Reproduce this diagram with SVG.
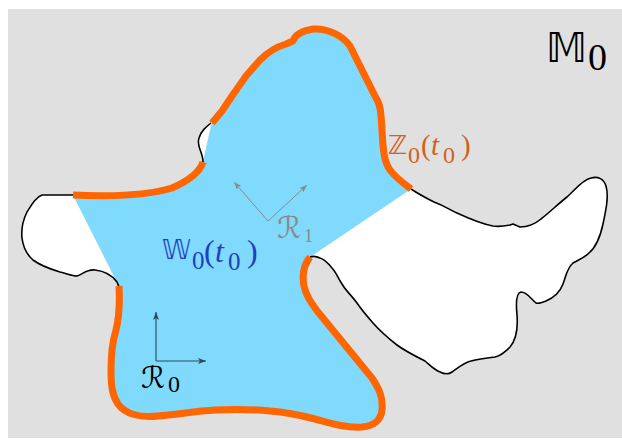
<svg xmlns="http://www.w3.org/2000/svg" width="622" height="440" viewBox="0 0 622 440">
<style>
.bg{fill:#e0e0e0}
.hole{fill:#ffffff;stroke:none}
.edge{fill:none;stroke:#000;stroke-width:1.6;stroke-linejoin:round}
.reg{fill:#80dafd;stroke:none}
.bnd{fill:none;stroke:#ff6600;stroke-width:7;stroke-linecap:butt;stroke-linejoin:round}
.t{font-family:"Liberation Serif","DejaVu Serif",serif}
.bb{font-family:"DejaVu Sans","DejaVu Serif","Noto Sans",sans-serif}
.it{font-style:italic}
</style>
<defs>
<marker id="ag" markerUnits="userSpaceOnUse" markerWidth="9" markerHeight="6" refX="8" refY="3" orient="auto">
<path d="M0,0 L8,3 L0,6 L2,3 Z" fill="#8a8a8a"/>
</marker>
<marker id="ad" markerUnits="userSpaceOnUse" markerWidth="9" markerHeight="6" refX="8" refY="3" orient="auto">
<path d="M0,0 L8,3 L0,6 L2,3 Z" fill="#2f4855"/>
</marker>
</defs>
<rect class="bg" x="8" y="9" width="614" height="429"/>
<g id="holes">
<path class="hole" d="M73,195 L42,195 C36,197 32,204 27,212 C23,220 21,228 22,238 C23,246 25,253 33,260 C41,266 50,269 60,272 C68,274 72,276 77,276 C83,274 87,269 95,270 C104,271 112,275 117,282 L119,287 Z"/>
<path class="hole" d="M203,162 C203,152 196,146 199,138 C201,131 206,127 211,123 Z"/>
<path class="hole" d="M411,189 C420,195 428,199 434,202 C445,206 450,210 457,213 C470,219 482,224 493,226 C500,227 505,226 510,225 L513,224 L520,227 C528,227 535,224 541,219 C550,212 558,204 567,197 C575,190 582,180 591,178 C598,176 604,179 606,186 C609,196 606,210 603,224 C600,238 595,248 589,253 C584,258 578,260 573,263 C567,268 566,276 563,284 C560,292 553,298 546,301 C541,303 538,304 536,303 C530,298 527,292 521,292 C516,293 516,305 517,315 C518,328 516,340 510,347 C505,352 500,356 495,357 C486,358 478,359 471,361 C463,363 458,368 452,372 C448,375 444,374 440,372 C433,369 430,365 425,361 C415,356 405,351 397,345 C388,338 380,331 373,323 C366,315 361,309 357,303 C352,296 346,291 342,284 C338,278 336,272 332,268 C328,263 324,259 320,258 C316,256 313,256 310,257 Z"/>
</g>
<g id="region-W0">
<path class="reg" d="M73,195 C110,197 150,195 172,188 C188,181 200,172 203,162 L212,123 L222,111 L232,96 L246,76 L260,60 C268,52 276,47 286,44 L293,41 C295,35 301,31 313,29 C328,28 343,36 350,46 L376,98 C381,105 381,115 382,130 C383,150 384,162 390,170 C396,178 403,183 411,189 L310,257 C303,266 302,276 304,286 C306,296 312,304 318,312 L372,378 C380,390 383,398 382,410 C381,420 374,426 362,427 C345,428 330,423 315,419 C300,415 285,412 270,411 C250,409 235,409 215,410 C195,411 175,415 158,416 C140,418 125,414 118,404 C112,395 111,385 111,370 C111,355 112,343 116,330 C119,318 120,305 119,286 Z"/>
</g>
<g id="connectors">
<path class="edge" d="M73,195 L42,195 C36,197 32,204 27,212 C23,220 21,228 22,238 C23,246 25,253 33,260 C41,266 50,269 60,272 C68,274 72,276 77,276 C83,274 87,269 95,270 C104,271 112,275 117,282 L119,287"/>
<path class="edge" d="M203,162 C203,152 196,146 199,138 C201,131 206,127 211,123"/>
<path class="edge" d="M411,189 C420,195 428,199 434,202 C445,206 450,210 457,213 C470,219 482,224 493,226 C500,227 505,226 510,225 L513,224 L520,227 C528,227 535,224 541,219 C550,212 558,204 567,197 C575,190 582,180 591,178 C598,176 604,179 606,186 C609,196 606,210 603,224 C600,238 595,248 589,253 C584,258 578,260 573,263 C567,268 566,276 563,284 C560,292 553,298 546,301 C541,303 538,304 536,303 C530,298 527,292 521,292 C516,293 516,305 517,315 C518,328 516,340 510,347 C505,352 500,356 495,357 C486,358 478,359 471,361 C463,363 458,368 452,372 C448,375 444,374 440,372 C433,369 430,365 425,361 C415,356 405,351 397,345 C388,338 380,331 373,323 C366,315 361,309 357,303 C352,296 346,291 342,284 C338,278 336,272 332,268 C328,263 324,259 320,258 C316,256 313,256 310,257"/>
<g id="boundary-Z0">
<path class="bnd" d="M73,195 C110,197 150,195 172,188 C188,181 200,172 203,162"/>
<path class="bnd" d="M212,123 L222,111 L232,96 L246,76 L260,60 C268,52 276,47 286,44 L293,41 C295,35 301,31 313,29 C328,28 343,36 350,46 L376,98 C381,105 381,115 382,130 C383,150 384,162 390,170 C396,178 403,183 411,189"/>
<path class="bnd" d="M310,257 C303,266 302,276 304,286 C306,296 312,304 318,312 L372,378 C380,390 383,398 382,410 C381,420 374,426 362,427 C345,428 330,423 315,419 C300,415 285,412 270,411 C250,409 235,409 215,410 C195,411 175,415 158,416 C140,418 125,414 118,404 C112,395 111,385 111,370 C111,355 112,343 116,330 C119,318 120,305 119,286"/>
</g>
<g id="frame-R1" stroke="#8a8a8a" stroke-width="1" fill="none">
<line x1="268" y1="221" x2="234" y2="182" marker-end="url(#ag)"/>
<line x1="268" y1="221" x2="307" y2="185" marker-end="url(#ag)"/>
</g>
<g id="frame-R0" stroke="#2f4855" stroke-width="1.1" fill="none">
<line x1="156" y1="361" x2="156" y2="312" marker-end="url(#ad)"/>
<line x1="156" y1="361" x2="206" y2="361" marker-end="url(#ad)"/>
</g>
</g>
<g id="label-M0">
<text fill="#000" class="t"><tspan class="bb" x="546" y="62" font-size="40">𝕄</tspan><tspan x="588" y="70" font-size="38">0</tspan></text>
</g>
<g id="label-Z0">
<text fill="#d2601a" class="t"><tspan class="bb" x="388" y="154" font-size="26">ℤ</tspan><tspan x="408" y="163" font-size="24">0</tspan><tspan x="421" y="155" font-size="29">(</tspan><tspan class="it" x="431" y="155" font-size="29">t</tspan><tspan x="443" y="163" font-size="24">0</tspan><tspan x="461" y="155" font-size="29">)</tspan></text>
</g>
<g id="label-W0">
<text fill="#1f40bf" class="t"><tspan class="bb" x="162" y="259" font-size="26">𝕎</tspan><tspan x="192" y="269" font-size="25">0</tspan><tspan x="204" y="262" font-size="32">(</tspan><tspan class="it" x="215" y="262" font-size="32">t</tspan><tspan x="228" y="270" font-size="25">0</tspan><tspan x="247" y="262" font-size="32">)</tspan></text>
</g>
<g id="label-R1">
<text fill="#8a8a8a" class="t"><tspan class="bb" x="277" y="238" font-size="30">ℛ</tspan><tspan x="304" y="242" font-size="18">1</tspan></text>
</g>
<g id="label-R0">
<text fill="#000" class="t"><tspan class="bb" x="141" y="388" font-size="30">ℛ</tspan><tspan x="168" y="392" font-size="24">0</tspan></text>
</g>
</svg>
